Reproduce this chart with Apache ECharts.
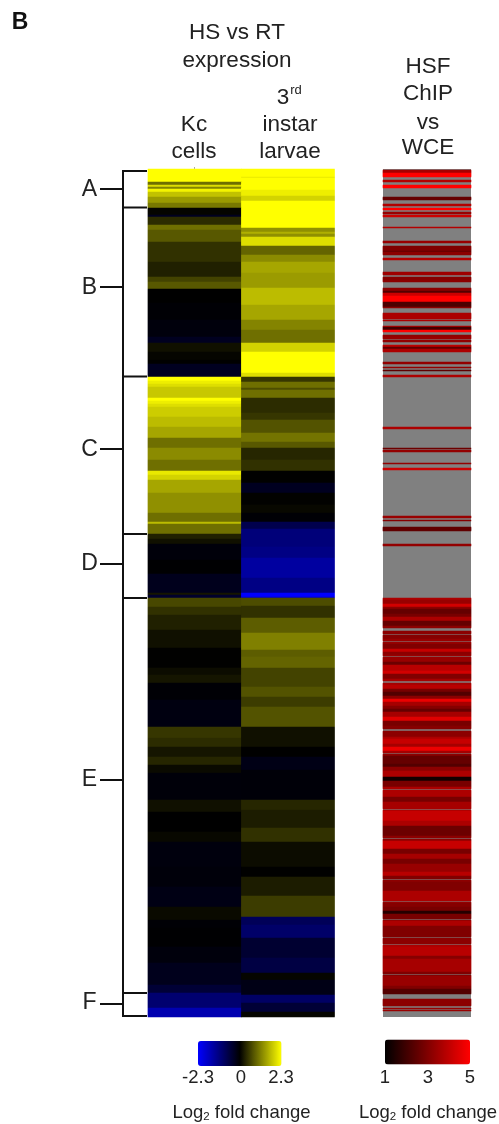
<!DOCTYPE html>
<html><head><meta charset="utf-8">
<style>html,body{margin:0;padding:0;background:#fff}#main{width:499px;height:1124px;filter:blur(0.55px)}</style>
<script src="https://cdn.jsdelivr.net/npm/echarts@6/dist/echarts.min.js"></script>
</head><body><div id="main"></div>
<script>
// Each pair: [number of rows, log2 fold change]. null = no significant HSF enrichment (grey)
const n = null;
const kcBands = [[13,2.3],[3,1],[2,2],[2,1.2],[3,2.2],[5,1.75],[6,1.4],[5,1.1],[7,.05],[2,-.3],[8,.4],[5,1],[12,.8],[20,.45],[15,.3],[5,.6],[7,.8],[14,0],[17,-.05],[17,-.12],[6,-.3],[9,.15],[8,.05],[4,0],[13,-.3],
[4,2.3],[3,2.15],[3,2],[11,1.8],[3,2.3],[3,2.15],[3,2],[10,1.85],[10,1.7],[11,1.5],[10,1],[12,1.25],[11,1],[4,2.1],[5,1.9],[13,1.5],[20,1.3],[9,1],[2,1.7],[10,1],[5,.3],[5,.15],[16,-.1],[14,-.03],[19,-.25],[2,.2],[3,-.4],
[9,.65],[8,.45],[15,.3],[18,.15],[20,.02],[7,.12],[8,.2],[17,-.05],[27,-.15],[11,.5],[9,.4],[10,.2],[8,.35],[8,.1],[27,-.09],[12,.15],[20,0],[10,.07],[25,-.13],[20,-.1],[20,-.18],[13,.1],[8,-.05],[19,-.03],[16,-.12],[22,-.25],[8,-.5],[15,-1],[9,-1.6]];
const larvaeBands = [[8,2.3],[1,2.1],[12,2.3],[6,2.15],[5,1.9],[27,2.3],[4,1.3],[2,1.6],[3,1.3],[9,2],[9,.9],[7,1.25],[11,1.5],[15,1.4],[17,1.7],[15,1.5],[10,1.2],[13,1],[9,1.9],[21,2.3],[4,2],
[5,.5],[6,1],[2,.7],[8,1],[15,.4],[7,.5],[13,.75],[9,1.05],[6,.8],[12,.35],[11,.45],[12,.02],[10,-.3],[12,.03],[8,.07],[9,-.05],[7,-.7],[18,-1.1],[11,-1.2],[20,-1.45],[15,-1.2],[4,-2.3],[1,-1.8],
[8,.7],[12,.45],[15,.85],[17,1.15],[7,.85],[11,.9],[19,.6],[10,.75],[10,.55],[20,.75],[20,.15],[10,0],[13,-.2],[30,-.07],[10,.35],[18,.25],[14,.45],[13,.12],[12,.12],[10,.02],[19,.25],[21,.55],[8,-.8],[13,-.95],[20,-.45],[15,-.6],[7,.05],[15,-.2],[8,-.9],[9,-.5],[5,.05],[4,1],[6,0]];
const chipBands = [[1,n],[3,3.6],[4,5],[3,n],[2,3.8],[3,n],[3,5],[9,n],[3,2.6],[4,n],[2,3.8],[2,n],[2,5],[2,n],[2,3.4],[1,n],[2,4.2],[10,n],[1,3.8],[13,n],[2,3.4],[3,n],[5,3],[1,2.5],[3,3.2],[3,n],[2,3.8],[12,n],[3,3.5],[2,n],[3,3.1],[2,3.2],[6,n],[3,3.2],[2,2.3],[3,4.2],[6,5],[5,2.2],[1,3.2],[5,n],[5,3.7],[1,3.7],[1,n],[1,3.7],[1,n],[4,n],[1,4],[3,2],[2,5],[3,n],[2,3.3],[2,3.4],[1,n],[2,3.3],[3,n],[2,4],[2,2.5],[3,3.7],[10,n],[2,3.3],[3,n],[1,3.3],[2,n],[1,2.5],[4,n],[2,3.7],
[50,n],[2,3.7],[19,n],[1,2.7],[1,n],[2,3.3],[11,n],[1,3.3],[4,n],[2,4.2],[46,n],[2,3.4],[2,n],[1,3.1],[6,n],[4,2.5],[13,n],[2,3.3],[52,n],
[2,3.7],[4,3.4],[3,4.3],[2,3.2],[5,2.6],[3,2.9],[4,3.7],[5,2.6],[2,3.2],[3,n],[3,3.2],[1,n],[4,3.1],[2,3.4],[1,n],[2,3.4],[5,3],[3,4.1],[3,3.2],[1,3.4],[1,n],[1,3.4],[4,3.4],[3,2.7],[6,3.9],[3,4.3],[5,3],[2,3.6],[2,n],[2,3.6],[4,3.9],[3,2.9],[4,2.3],[3,3.2],[3,4.7],[4,3.6],[3,3.1],[3,2.6],[5,3.6],[4,4.5],[5,2.9],[3,3.1],[2,n],[3,3.2],[3,3.2],
[2,3.7],[5,4.1],[3,3.6],[4,4.7],[2,3.6],[1,n],[2,3.2],[8,2.6],[3,2.3],[4,3.2],[6,3.7],[4,1.3],[6,2.9],[2,3.7],[1,n],[2,3.7],[5,3.7],[5,2.9],[5,3.6],[2,3.6],[1,n],[1,3.6],[10,4.1],[5,3.7],[10,2.7],[2,3.2],[1,n],[2,3.2],[8,4.1],[5,2.9],[5,3.6],[5,2.9],[8,3.4],[4,3.9],[3,3],
[1,n],[2,3.2],[9,3],[10,3.7],[1,n],[1,3.4],[4,3.1],[4,2.9],[3,1.6],[5,2.9],[1,n],[1,3.2],[5,3.7],[11,3],[1,n],[1,3.2],[5,3.2],[1,n],[2,3.7],[9,3.9],[3,3.1],[13,3.6],[2,3],[1,n],[1,3],[10,3.4],[3,3],[5,2.3],[5,n],[7,3.2],[2,n],[1,3.4],[1,n],[1,3.4],[5,n]];
const expressionColumns = ['Kc cells','3rd instar larvae'];
const chipColumns = ['HSF ChIP vs WCE'];
const expressionTicks = ['-2.3','0','2.3'];
const chipTicks = ['1','3','5'];
const clusterLabels = ['A','B','C','D','E','F'];

const expand = b => b.flatMap(([c,v]) => Array(c).fill(v));
const kc = expand(kcBands), larvae = expand(larvaeBands), chip = expand(chipBands);
const rows = Array.from({length:848},(_,i)=>i);
const exprData = [];
rows.forEach(r=>{exprData.push([0,r,kc[r]]);exprData.push([1,r,larvae[r]]);});
const chipData = [];
rows.forEach(r=>{ if(chip[r]!=null) chipData.push([0,r,chip[r]]); });

const font = '"Liberation Sans", Arial, sans-serif';
const ink = '#222';
const txt = (x,y,t,size,extra) => ({type:'text',x,y,silent:true,style:Object.assign({text:t,font:`${size}px ${font}`,fill:ink,textAlign:'center',textVerticalAlign:'middle'},extra||{})});
const ln = (x1,y1,x2,y2) => ({type:'line',silent:true,shape:{x1,y1,x2,y2},style:{stroke:'#111',lineWidth:2}});
const logLabel = (x,y) => ({type:'text',x,y,silent:true,style:{
  rich:{a:{font:`18.5px ${font}`,fill:ink},s:{font:`11.5px ${font}`,fill:ink,padding:[7,0,0,0]}},
  text:'{a|Log}{s|2}{a| fold change}',align:'center',verticalAlign:'middle'}});

const clusterY = [190,288,450,564,780,1003];
const splitY = [171,207.5,376.5,534,598,993,1016];
const graphics = [
  {type:'text',x:20,y:23,silent:true,style:{text:'B',font:`bold 23px ${font}`,fill:'#111',textAlign:'center',textVerticalAlign:'middle'}},
  txt(237,33,'HS vs RT',22.5), txt(237,61,'expression',22.5),
  txt(283,98,'3',22.5), txt(296,90,'rd',13),
  txt(194,125,expressionColumns[0].split(' ')[0],22.5), txt(194,152,expressionColumns[0].split(' ')[1],22.5),
  txt(290,125,'instar',22.5), txt(290,152,'larvae',22.5),
  txt(428,67,'HSF',22.5), txt(428,94,'ChIP',22.5), txt(428,123,'vs',22.5), txt(428,148,'WCE',22.5),
  ln(123,170,123,1017)
];
splitY.forEach(y=>graphics.push(ln(122,y,147,y)));
clusterY.forEach((y,i)=>{
  graphics.push(txt(89.5,y,clusterLabels[i],23));
  const ty = [189,287,449,564,780,1004][i];
  graphics.push(ln(100,ty,123,ty));
});
[198,241,281].forEach((x,i)=>graphics.push(txt(x,1078,expressionTicks[i],18.5)));
[385,428,470].forEach((x,i)=>graphics.push(txt(x,1078,chipTicks[i],18.5)));
graphics.push(logLabel(241.5,1113),logLabel(428,1113));

const chart = echarts.init(document.getElementById('main'),null,{renderer:'canvas'});
chart.setOption({
  animation:false,
  backgroundColor:'#fff',
  tooltip:{show:false},
  grid:[
    {left:148,top:169,width:186.5,height:848,show:false},
    {left:383,top:169,width:88,height:848,show:true,backgroundColor:'#808080',borderWidth:0}
  ],
  xAxis:[
    {type:'category',gridIndex:0,position:'top',data:expressionColumns,axisLine:{show:false},axisLabel:{show:false},axisTick:{show:true,alignWithLabel:true,length:2,lineStyle:{color:'#aaa'}},splitLine:{show:false}},
    {type:'category',gridIndex:1,position:'top',data:chipColumns,axisLine:{show:false},axisLabel:{show:false},axisTick:{show:false},splitLine:{show:false}}
  ],
  yAxis:[
    {type:'category',gridIndex:0,inverse:true,data:rows,show:false},
    {type:'category',gridIndex:1,inverse:true,data:rows,show:false}
  ],
  visualMap:[
    {type:'continuous',seriesIndex:0,dimension:2,min:-2.3,max:2.3,orient:'horizontal',calculable:false,hoverLink:false,
     left:198,top:1041,itemWidth:25,itemHeight:83.5,text:null,showLabel:false,inRange:{color:['#0000ff','#000000','#ffff00']},realtime:false,padding:0,textStyle:{color:'transparent',fontSize:1}},
    {type:'continuous',seriesIndex:1,dimension:2,min:1,max:5,orient:'horizontal',calculable:false,hoverLink:false,
     left:385,top:1039.5,itemWidth:25,itemHeight:85,text:null,showLabel:false,inRange:{color:['#000000','#ff0000']},realtime:false,padding:0,textStyle:{color:'transparent',fontSize:1}}
  ],
  graphic:{elements:graphics},
  series:[
    {type:'heatmap',xAxisIndex:0,yAxisIndex:0,data:exprData,progressive:0,animation:false,silent:true,itemStyle:{borderWidth:0}},
    {type:'heatmap',xAxisIndex:1,yAxisIndex:1,data:chipData,progressive:0,animation:false,silent:true,itemStyle:{borderWidth:0}}
  ]
});
</script></body></html>
